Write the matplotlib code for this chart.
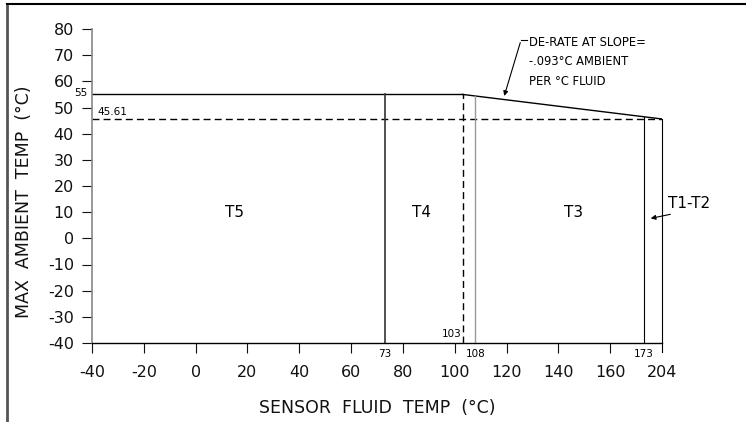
import numpy as np
import matplotlib
matplotlib.use("Agg")
import matplotlib.pyplot as plt
from matplotlib.lines import Line2D

# zone boundaries (sensor fluid temp, degC)
t5_limit = 73
t4_dash = 103
t4_limit = 108
t3_limit = 173
t12_limit = 204
max_ambient = 55
ambient_at_max = 45.61
derate_slope = -0.093

x_ticks = [-40, -20, 0, 20, 40, 60, 80, 100, 120, 140, 160, 204]
y_ticks = [-40, -30, -20, -10, 0, 10, 20, 30, 40, 50, 60, 70, 80]
zone_names = ["T5", "T4", "T3"]
zone_label_x = [15, 87, 146]


def to_axis(t):
    # axis is broken after 173: 173..204 is squeezed into 173..180
    t = np.asarray(t, dtype=float)
    return np.where(t <= 173, t, 173 + (t - 173) * 7.0 / 31.0)


plt.rcParams['font.family'] = ['DejaVu Sans']
fig = plt.figure(figsize=(7.46, 4.22), dpi=100)
ax = fig.add_axes([92 / 746, 1 - 343 / 422, 570 / 746, 314 / 422])

ymin = -40
# derating line (straight in drawing space)
dx = to_axis([t4_dash, t12_limit])
dy = [max_ambient, ambient_at_max]


def top_of(t):
    xa = float(to_axis(t))
    if xa <= dx[0]:
        return max_ambient
    return float(np.interp(xa, dx, dy))


lk = dict(color="black", lw=1.0)
ax.plot([-40, dx[0]], [max_ambient, max_ambient], **lk)
ax.plot(dx, dy, **lk)
ax.plot([-40, dx[1]], [ambient_at_max, ambient_at_max], color="black", lw=1.0,
        linestyle=(0, (5, 3)))

ax.plot([t5_limit, t5_limit], [ymin, top_of(t5_limit)], color="#333333", lw=1.2)
ax.plot([t4_dash, t4_dash], [ymin, max_ambient], color="black", lw=1.0,
        linestyle=(0, (5, 3)))
ax.plot([to_axis(t4_limit)] * 2, [ymin, top_of(t4_limit)], color="#999999", lw=1.0)
ax.plot([to_axis(t3_limit)] * 2, [ymin, top_of(t3_limit)], color="black", lw=0.8)
ax.plot([to_axis(t12_limit)] * 2, [ymin - 3.5, ambient_at_max], color="black",
        lw=0.8, clip_on=False)

ax.set_xlim(-40, 180)
ax.set_ylim(-40, 80)
ax.set_xticks(to_axis(x_ticks[:-1]).tolist() + [float(to_axis(x_ticks[-1]))])
ax.set_xticklabels([str(v) for v in x_ticks], fontsize=11.5)
ax.set_yticks(y_ticks)
ax.set_yticklabels([str(v) for v in y_ticks], fontsize=11.5)
ax.tick_params(axis="x", direction="out", length=7, width=0.8, pad=9, colors="#111111")
ax.tick_params(axis="y", direction="out", length=7, width=0.8, pad=6, colors="#111111")
# the 204 tick is drawn by the boundary line itself
ax.xaxis.get_major_ticks()[-1].tick1line.set_visible(False)

for s in ["top", "right"]:
    ax.spines[s].set_visible(False)
ax.spines["left"].set_color("#888888")
ax.spines["left"].set_linewidth(1.2)
ax.spines["bottom"].set_color("black")
ax.spines["bottom"].set_linewidth(1.0)

ax.set_xlabel("SENSOR  FLUID  TEMP  (°C)", fontsize=12.5, color="#111111")
ax.xaxis.label.set_va("center")
ax.xaxis.set_label_coords(0.50, (343 - 408) / 314)
ax.set_ylabel("MAX  AMBIENT  TEMP  (°C)", fontsize=12.5, color="#111111")
ax.yaxis.set_label_coords((33 - 92) / 570, 0.45)

# zone names
for name, zx in zip(zone_names, zone_label_x):
    ax.text(zx, 10, name, fontsize=11, ha="center", va="center")
ax.text(182.5, 13.5, "T1-T2", fontsize=11, ha="left", va="center")
ax.annotate("", xy=(174.6, 7.4), xytext=(184.3, 9.4),
            arrowprops=dict(arrowstyle="-|>", color="black", lw=0.8,
                            mutation_scale=7), annotation_clip=False)

# small value labels
small = 7.5
for t in [t5_limit, t4_limit, t3_limit]:
    ax.annotate(str(t), xy=(float(to_axis(t)), ymin), xytext=(0, -4),
                textcoords="offset points", ha="center", va="top", fontsize=small,
                annotation_clip=False)
ax.annotate(str(t4_dash), xy=(t4_dash, ymin), xytext=(-1, 3),
            textcoords="offset points", ha="right", va="bottom", fontsize=small)
ax.annotate(str(max_ambient), xy=(-40, max_ambient), xytext=(-3, 1),
            textcoords="offset points", ha="right", va="center", fontsize=small,
            annotation_clip=False)
ax.annotate(f"{ambient_at_max:.2f}", xy=(-40, ambient_at_max), xytext=(4, 1.5),
            textcoords="offset points", ha="left", va="bottom", fontsize=small)

# de-rate callout
note = ["DE-RATE AT SLOPE=", f"-{abs(derate_slope):.3f}°C AMBIENT".replace("0.", "."),
        "PER °C FLUID"]
for i, line in enumerate(note):
    ax.text(128.7, 75.0 - i * 7.6, line, fontsize=8.3, ha="left", va="center",
            clip_on=False)
ax.plot([125.6, 127.8], [75.8, 75.8], color="black", lw=0.8, clip_on=False)
ax.annotate("", xy=(118.8, 53.4), xytext=(125.6, 75.8),
            arrowprops=dict(arrowstyle="-|>", color="black", lw=0.8,
                            mutation_scale=7), annotation_clip=False)

# drawing frame
fig.add_artist(Line2D([7 / 746, 7 / 746], [0, 1 - 4 / 422], color="#555555", lw=2.0,
                      transform=fig.transFigure))
fig.add_artist(Line2D([7 / 746, 1], [1 - 4 / 422, 1 - 4 / 422], color="black", lw=1.5,
                      transform=fig.transFigure))

fig.savefig("out.png", dpi=100)
